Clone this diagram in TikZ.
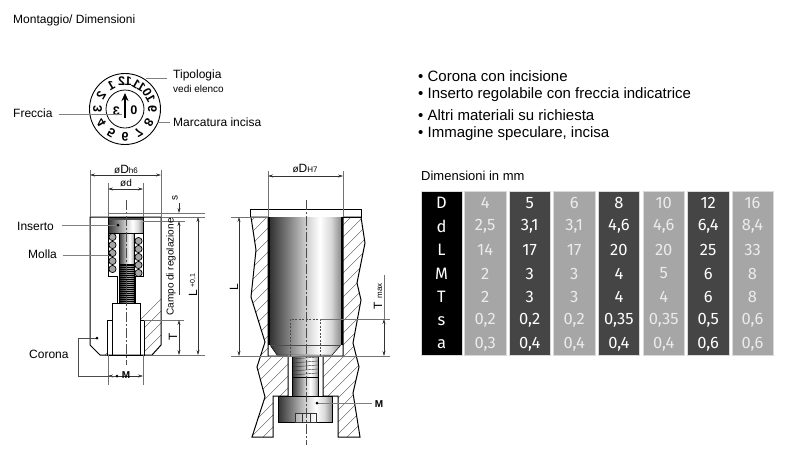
\documentclass[tikz,border=0pt]{standalone}
\usepackage{fontspec}
\setmainfont{Liberation Sans}
\newfontfamily\tablefont{Fira Sans}
\usetikzlibrary{arrows.meta, calc}
\pgfdeclarehorizontalshading{cylinder}{100bp}{rgb(0bp)=(0.2,0.2,0.2); rgb(25bp)=(0.2,0.2,0.2); rgb(38bp)=(0.5,0.5,0.5); rgb(50bp)=(0.8,0.8,0.8); rgb(60bp)=(1,1,1); rgb(68bp)=(0.85,0.85,0.85); rgb(75bp)=(0.55,0.55,0.55); rgb(100bp)=(0.55,0.55,0.55)}
\tikzset{%
	label text/.style={inner sep=0pt, font=\fontsize{12}{14}\selectfont},
	small text/.style={inner sep=0pt, font=\fontsize{10}{12}\selectfont},
	bullet text/.style={anchor=west, inner sep=0pt, font=\fontsize{15}{18}\selectfont},
	outline/.style={draw=black, line width=1pt, line join=miter},
	hatchline/.style={draw=black!70, line width=0.35pt},
	dimline/.style={draw=black!80, line width=0.5pt, {Stealth[length=5pt,width=3pt]}-{Stealth[length=5pt,width=3pt]}},
	dimend/.style={draw=black!80, line width=0.5pt, -{Stealth[length=5pt,width=3pt]}},
	extline/.style={draw=black!55, line width=0.45pt},
	leader/.style={draw=black!50, line width=0.6pt},
	centerline/.style={draw=black!70, line width=0.4pt, dash pattern=on 10pt off 2pt on 2pt off 2pt},
	dial number/.style={inner sep=0pt, font=\fontsize{12.5}{14}\selectfont\bfseries},
	col box/.style={draw=black!15, line width=0.4pt, minimum width=41.5pt, minimum height=164.5pt, inner sep=0pt},
	cell text/.style={inner sep=0pt, text=#1, font=\tablefont\fontsize{16.5}{18}\selectfont},
}
\newcommand{\hatchfill}[1]{%
	\begin{scope}
		\clip #1;
		\foreach \h in {0,12,...,600}
			\draw[hatchline] (\h,460) -- ++(260,-260);
	\end{scope}
}
\newcommand{\leaderdot}[1]{\fill (#1) circle (1.5pt);}
\begin{document}
\begin{tikzpicture}[x=1pt,y=-1pt]
	\useasboundingbox (0,0) rectangle (800,461);
	
	\node[label text, anchor=west] (title) at (13,20) {Montaggio/ Dimensioni};
	
	% Dial
	\coordinate (dial) at (125,109);
	\draw[line width=0.9pt] (dial) circle (35.5pt);
	\draw[line width=0.8pt] (dial) circle (19pt);
	\foreach \n in {1,...,12}{
		\pgfmathsetmacro{\t}{(12-\n)*30}
		\node[dial number, rotate=-\t] (num\n) at ({125+27.5*sin(\t)},{109-27.5*cos(\t)}) {\reflectbox{\n}};
	}
	\node[dial number] (inner3) at (116.5,111) {\reflectbox{3}};
	\node[dial number] (inner0) at (134,110) {\reflectbox{0}};
	\coordinate (arrowtop) at (125,93);
	\coordinate (arrowend) at (125,118);
	\draw[line width=2pt, -{Stealth[length=8pt,width=7pt]}] (arrowend) -- (arrowtop);
	\node[label text, anchor=west] (freccia) at (13,113) {Freccia};
	\coordinate (frecciaEnd) at (122,114);
	\draw[leader, shorten <=6pt] (freccia.east |- frecciaEnd) -- (frecciaEnd);
	\node[label text, anchor=west] (tipologia) at (173,75) {Tipologia};
	\node[small text, anchor=west] (elenco) at (173,89) {vedi elenco};
	\coordinate (tipologiaEnd) at (146,78);
	\draw[leader, shorten <=6pt] (tipologia.west |- tipologiaEnd) -- (tipologiaEnd);
	\node[label text, anchor=west] (marcatura) at (173,122) {Marcatura incisa};
	\coordinate (marcaturaEnd) at (157,122);
	\draw[leader, shorten <=3pt] (marcatura.west |- marcaturaEnd) -- (marcaturaEnd);
	
	% Bullet list
	\node[bullet text] (b1) at (418,76) {• Corona con incisione};
	\node[bullet text] (b2) at (418,95) {• Inserto regolabile con freccia indicatrice};
	\node[bullet text] (b3) at (418,115) {• Altri materiali su richiesta};
	\node[bullet text] (b4) at (418,134) {• Immagine speculare, incisa};
	
	% Left assembly
	\def\leftouter{(90,217) -- (161,217) -- (161,345) -- (152,355) -- (100,355) -- (90,345) -- cycle}
	\def\leftinner{(108,217) -- (143,217) -- (143,276) -- (135,276) -- (135,303) -- (140,303) -- (140,320) -- (144,320) -- (144,355) -- (107,355) -- (107,320) -- (112,320) -- (112,303) -- (117,303) -- (117,276) -- (108,276) -- cycle}
	\hatchfill{\leftouter}
	\fill[white] \leftinner;
	\draw[shading=cylinder, draw=black, line width=0.7pt] (108,217) rectangle (143,233);
	\fill[black!70] (108,217) rectangle (143,220);
	\draw[shading=cylinder, draw=black, line width=0.5pt] (119,233) rectangle (134,264);
	\draw[shading=cylinder, draw=black, line width=0.5pt] (119,264) rectangle (134,303);
	\fill[black, opacity=0.35] (119,264) rectangle (134,303);
	\foreach \y in {265,267,...,302}
		\draw[black, line width=0.35pt] (119,\y) -- (134,\y);
	\foreach \y in {237,245,...,269}{
		\draw[fill=black!35, line width=0.7pt] (112.5,\y) circle (3.6pt);
		\draw[fill=black!35, line width=0.7pt] (138.5,\y+4) circle (3.6pt);
	}
	\draw[outline] \leftouter;
	\draw[outline] \leftinner;
	\draw[outline] (112,303) -- (140,303);
	\draw[outline] (112,320) -- (112,355);
	\draw[outline] (140,320) -- (140,355);
	\coordinate (leftaxisT) at (126,200);
	\coordinate (leftaxisB) at (126,365);
	\draw[centerline] (leftaxisT) -- (leftaxisB);
	
	% Left dimensions
	\coordinate (Dh1) at (90,175);
	\coordinate (Dh2) at (161,175);
	\draw[extline] (90,170) -- (90,217);
	\draw[extline] (161,170) -- (161,217);
	\draw[dimline] (Dh1) -- (Dh2);
	\node[small text] (Dhlabel) at (126,169) {ø\fontsize{12}{14}\selectfont D\fontsize{8}{10}\selectfont h6};
	\coordinate (d1) at (108,189);
	\coordinate (d2) at (143,189);
	\draw[extline] (108,183) -- (108,217);
	\draw[extline] (143,183) -- (143,217);
	\draw[dimline] (d1) -- (d2);
	\node[small text] (dlabel) at (126,183) {ød};
	\draw[extline] (108,213) -- (205,213);
	\draw[extline] (161,217) -- (205,217);
	\draw[extline] (143,221) -- (185,221);
	\coordinate (s1) at (179,203);
	\coordinate (s2) at (179,213);
	\draw[dimend] (s1) -- (s2);
	\node[small text, rotate=90] (slabel) at (175,198) {s};
	\coordinate (c1) at (179,221);
	\coordinate (c2) at (179,295);
	\draw[dimend] (c2) -- (c1);
	\node[small text, rotate=90] (campolabel) at (171,267) {Campo di regolazione};
	\coordinate (T1) at (179,320);
	\coordinate (T2) at (179,355);
	\draw[extline] (144,320) -- (184,320);
	\draw[extline] (152,355) -- (205,355);
	\draw[dimline] (T1) -- (T2);
	\node[label text, rotate=90] (Tlabel) at (173,337) {T};
	\coordinate (L1) at (198,217);
	\coordinate (L2) at (198,355);
	\draw[dimline] (L1) -- (L2);
	\node[label text, rotate=90] (Llabel) at (193,293) {L};
	\node[inner sep=0pt, rotate=90, font=\fontsize{7}{8}\selectfont] (tollabel) at (193,281) {+0,1};
	\coordinate (M1) at (108,376);
	\coordinate (M2) at (143,376);
	\draw[extline] (108,355) -- (108,385);
	\draw[extline] (143,355) -- (143,385);
	\draw[dimline] (M1) -- (M2);
	\node[small text, font=\fontsize{10}{12}\selectfont\bfseries] (Mlabel) at (126,375) {M};
	
	% Left labels
	\node[label text, anchor=west] (inserto) at (17,226) {Inserto};
	\coordinate (insertoDot) at (118,225);
	\draw[leader, shorten <=8pt] (inserto.east |- insertoDot) -- (insertoDot);
	\leaderdot{insertoDot}
	\node[label text, anchor=west] (molla) at (28,254) {Molla};
	\coordinate (mollaDot) at (110,255);
	\draw[leader, shorten <=6pt] (molla.east |- mollaDot) -- (mollaDot);
	\leaderdot{mollaDot}
	\node[label text, anchor=west] (corona) at (29,354) {Corona};
	\coordinate (coronaDot) at (97,338);
	\coordinate (coronaEnd) at (117,376);
	\draw[black!70, line width=0.5pt] (coronaDot) -- (78,338) -- (78,376) -- (coronaEnd);
	\leaderdot{coronaDot}
	\leaderdot{coronaEnd}
	
	% Right assembly
	\def\rightleft{(251,217) -- (256,250) -- (251,297) -- (265,342) -- (257,367) -- (265,397) -- (252,437) -- (273,437) -- (273,396) -- (288,396) -- (288,356) -- (268,356) -- (268,217) -- cycle}
	\def\rightright{(343,217) -- (361,217) -- (365,243) -- (357,283) -- (361,300) -- (353,343) -- (359,367) -- (353,393) -- (360,437) -- (338,437) -- (338,396) -- (323,396) -- (323,356) -- (343,356) -- cycle}
	\hatchfill{\rightleft}
	\hatchfill{\rightright}
	\draw[outline] \rightleft;
	\draw[outline] \rightright;
	\draw[line width=1pt] (250,209) rectangle (361,217);
	\path[shading=cylinder] (270,217) -- (341,217) -- (341,345) -- (332,355) -- (277,355) -- (270,345) -- cycle;
	\draw[black, line width=0.5pt] (270,345) -- (277,355) -- (332,355) -- (341,345);
	\draw[black!70, line width=0.4pt] (270,345) -- (341,345);
	\draw[line width=2.5pt] (269.2,217) -- (269.2,345);
	\draw[line width=2.5pt] (341.8,217) -- (341.8,345);
	\draw[black!70, line width=0.7pt, dash pattern=on 2pt off 1.5pt] (290,356) -- (290,319) -- (320,319) -- (320,356);
	\path[shading=cylinder] (292,356) rectangle (318,396);
	\foreach \y in {359,363,...,376}
		\draw[black!80, line width=0.4pt] (292,\y) -- (318,\y-2);
	\draw[line width=0.7pt] (292,356) -- (292,396);
	\draw[line width=0.7pt] (318,356) -- (318,396);
	\draw[line width=0.5pt] (292,377) -- (318,377);
	\draw[shading=cylinder, draw=black, line width=0.7pt] (278,396) rectangle (332,422);
	\draw[black!80, line width=0.5pt, fill=white, fill opacity=0.3] (295,413) rectangle (316,422);
	\draw[black!80, line width=0.5pt] (302,413) -- (302,422);
	\draw[black!80, line width=0.5pt] (310,413) -- (310,422);
	\coordinate (rightaxisT) at (306,200);
	\coordinate (rightaxisB) at (306,445);
	\draw[centerline] (rightaxisT) -- (rightaxisB);
	
	% Right dimensions
	\coordinate (DH1) at (268,176);
	\coordinate (DH2) at (343,176);
	\draw[extline] (268,171) -- (268,217);
	\draw[extline] (343,171) -- (343,217);
	\draw[dimline] (DH1) -- (DH2);
	\node[small text] (DHlabel) at (305,168) {ø\fontsize{12}{14}\selectfont D\fontsize{8}{10}\selectfont H7};
	\draw[extline] (231,217) -- (268,217);
	\draw[extline] (231,356) -- (390,356);
	\coordinate (RL1) at (239,217);
	\coordinate (RL2) at (239,356);
	\draw[dimline] (RL1) -- (RL2);
	\node[label text, rotate=90] (RLlabel) at (234,287) {L};
	\draw[extline] (320,319) -- (390,319);
	\coordinate (RT1) at (384,275);
	\coordinate (RT2) at (384,319);
	\coordinate (RT3) at (384,356);
	\draw[extline] (RT1) -- (RT2);
	\draw[dimline] (RT2) -- (RT3);
	\node[label text, rotate=90] (RTlabel) at (378,306) {T};
	\node[inner sep=0pt, rotate=90, font=\fontsize{8}{10}\selectfont] (RTmax) at (380,291) {max};
	\coordinate (RMdot) at (317,403);
	\node[label text, font=\fontsize{10}{12}\selectfont\bfseries] (RMlabel) at (379,404) {M};
	\draw[leader, shorten <=3pt] (RMlabel.west |- RMdot) -- (RMdot);
	\leaderdot{RMdot}
	
	% Table
	\node[anchor=west, inner sep=0pt, font=\fontsize{13}{15}\selectfont] (tabletitle) at (421,176) {Dimensioni in mm};
	\colorlet{lightcol}{black!35}
	\colorlet{darkcol}{black!73}
	\foreach \i/\cx/\cfill/\ctext/\vals in {
		0/441.5/black/white/{D,d,L,M,T,s,a},
		1/485.2/lightcol/white!92!black/{4,{2,5},14,2,2,{0,2},{0,3}},
		2/529.7/darkcol/white/{5,{3,1},17,3,3,{0,2},{0,4}},
		3/574.2/lightcol/white!92!black/{6,{3,1},17,3,3,{0,2},{0,4}},
		4/618.9/darkcol/white/{8,{4,6},20,4,4,{0,35},{0,4}},
		5/663.7/lightcol/white!92!black/{10,{4,6},20,5,4,{0,35},{0,4}},
		6/708.2/darkcol/white/{12,{6,4},25,6,6,{0,5},{0,6}},
		7/752.5/lightcol/white!92!black/{16,{8,4},33,8,8,{0,6},{0,6}}}{
		\node[col box, fill=\cfill] (col\i) at (\cx,273) {};
		\foreach \v [count=\j from 0] in \vals
			\node[cell text=\ctext] (cell\i-\j) at (\cx,{202.7+23.6*\j}) {\v};
	}
\end{tikzpicture}
\end{document}
